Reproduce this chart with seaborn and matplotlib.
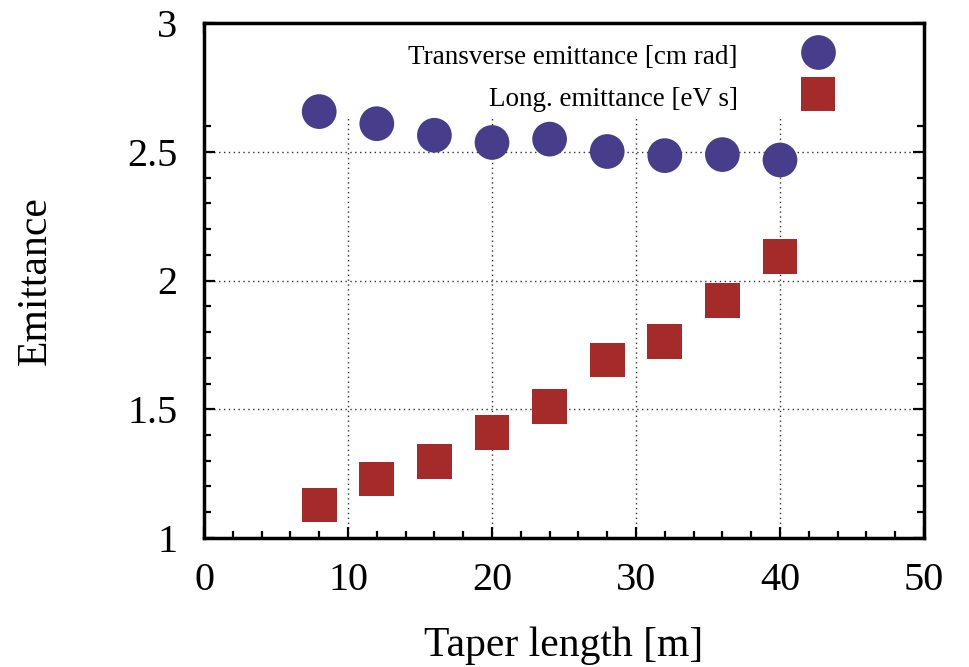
import matplotlib
matplotlib.use("Agg")
import matplotlib.pyplot as plt
import seaborn as sns
import pandas as pd
from matplotlib.patches import Rectangle
from matplotlib.ticker import MultipleLocator

taper_length = [8, 12, 16, 20, 24, 28, 32, 36, 40]
transverse = [2.656, 2.609, 2.564, 2.536, 2.549, 2.501, 2.485, 2.489, 2.468]
longitudinal = [1.128, 1.229, 1.297, 1.411, 1.512, 1.691, 1.763, 1.922, 2.093]
series_names = ["Transverse emittance [cm rad]", "Long. emittance [eV s]"]
x_ticks = [0, 10, 20, 30, 40, 50]
y_ticks = [1, 1.5, 2, 2.5, 3]

df = pd.DataFrame({
    "x": taper_length * 2,
    "y": transverse + longitudinal,
    "series": [series_names[0]] * len(taper_length) + [series_names[1]] * len(taper_length),
})

sns.set_style("white")
plt.rcParams["font.family"] = ["Liberation Serif", "DejaVu Serif"]
plt.rcParams.update({"text.color": "black", "axes.labelcolor": "black",
                     "xtick.color": "black", "ytick.color": "black"})

fig = plt.figure(figsize=(9.69, 6.67), dpi=100)
ax = fig.add_axes([204 / 969, 1 - 538 / 667, 720 / 969, 515 / 667])

sns.scatterplot(
    data=df, x="x", y="y", hue="series", style="series",
    palette={series_names[0]: "#483D8B", series_names[1]: "#A52A2A"},
    markers={series_names[0]: "o", series_names[1]: "s"},
    s=25 ** 2, linewidth=0, ax=ax, zorder=3,
)

ax.set_xlim(0, 50)
ax.set_ylim(1, 3)
ax.set_xticks(x_ticks)
ax.set_yticks(y_ticks)
ax.set_xticklabels([str(v) for v in x_ticks])
ax.set_yticklabels([f"{v:g}" for v in y_ticks])
ax.xaxis.set_minor_locator(MultipleLocator(2))
ax.yaxis.set_minor_locator(MultipleLocator(0.1))
ax.tick_params(which="both", direction="in", top=True, right=True,
               bottom=True, left=True, width=1.6, color="black", labelcolor="black")
ax.tick_params(which="major", length=8, labelsize=29)
ax.tick_params(axis="y", which="major", pad=19)
ax.tick_params(axis="x", which="major", pad=17)
ax.tick_params(which="minor", length=5)

ax.grid(True, which="major", linestyle=(0, (1, 2.5)), color="#333333", linewidth=1.0)
ax.set_axisbelow(True)

# opaque key area hides the grid behind the legend
ax.add_patch(Rectangle((0, 1 - 94 / 515), 1, 94 / 515, transform=ax.transAxes,
                       facecolor="white", edgecolor="none", zorder=1.5))

for sp in ax.spines.values():
    sp.set_linewidth(2.5)
    sp.set_color("black")

ax.set_xlabel("Taper length [m]", fontsize=30, labelpad=20, color="black")
ax.set_ylabel("Emittance", fontsize=30, labelpad=52, color="black")

leg = ax.legend(
    loc="upper right", bbox_to_anchor=(0.877, 0.966),
    frameon=False, markerfirst=False, fontsize=19.5,
    handlelength=1.3, handleheight=1.3, handletextpad=2.3,
    labelspacing=0.45, borderaxespad=0, borderpad=0,
)
for t in leg.get_texts():
    t.set_color("black")

fig.savefig("out.png", dpi=100)
